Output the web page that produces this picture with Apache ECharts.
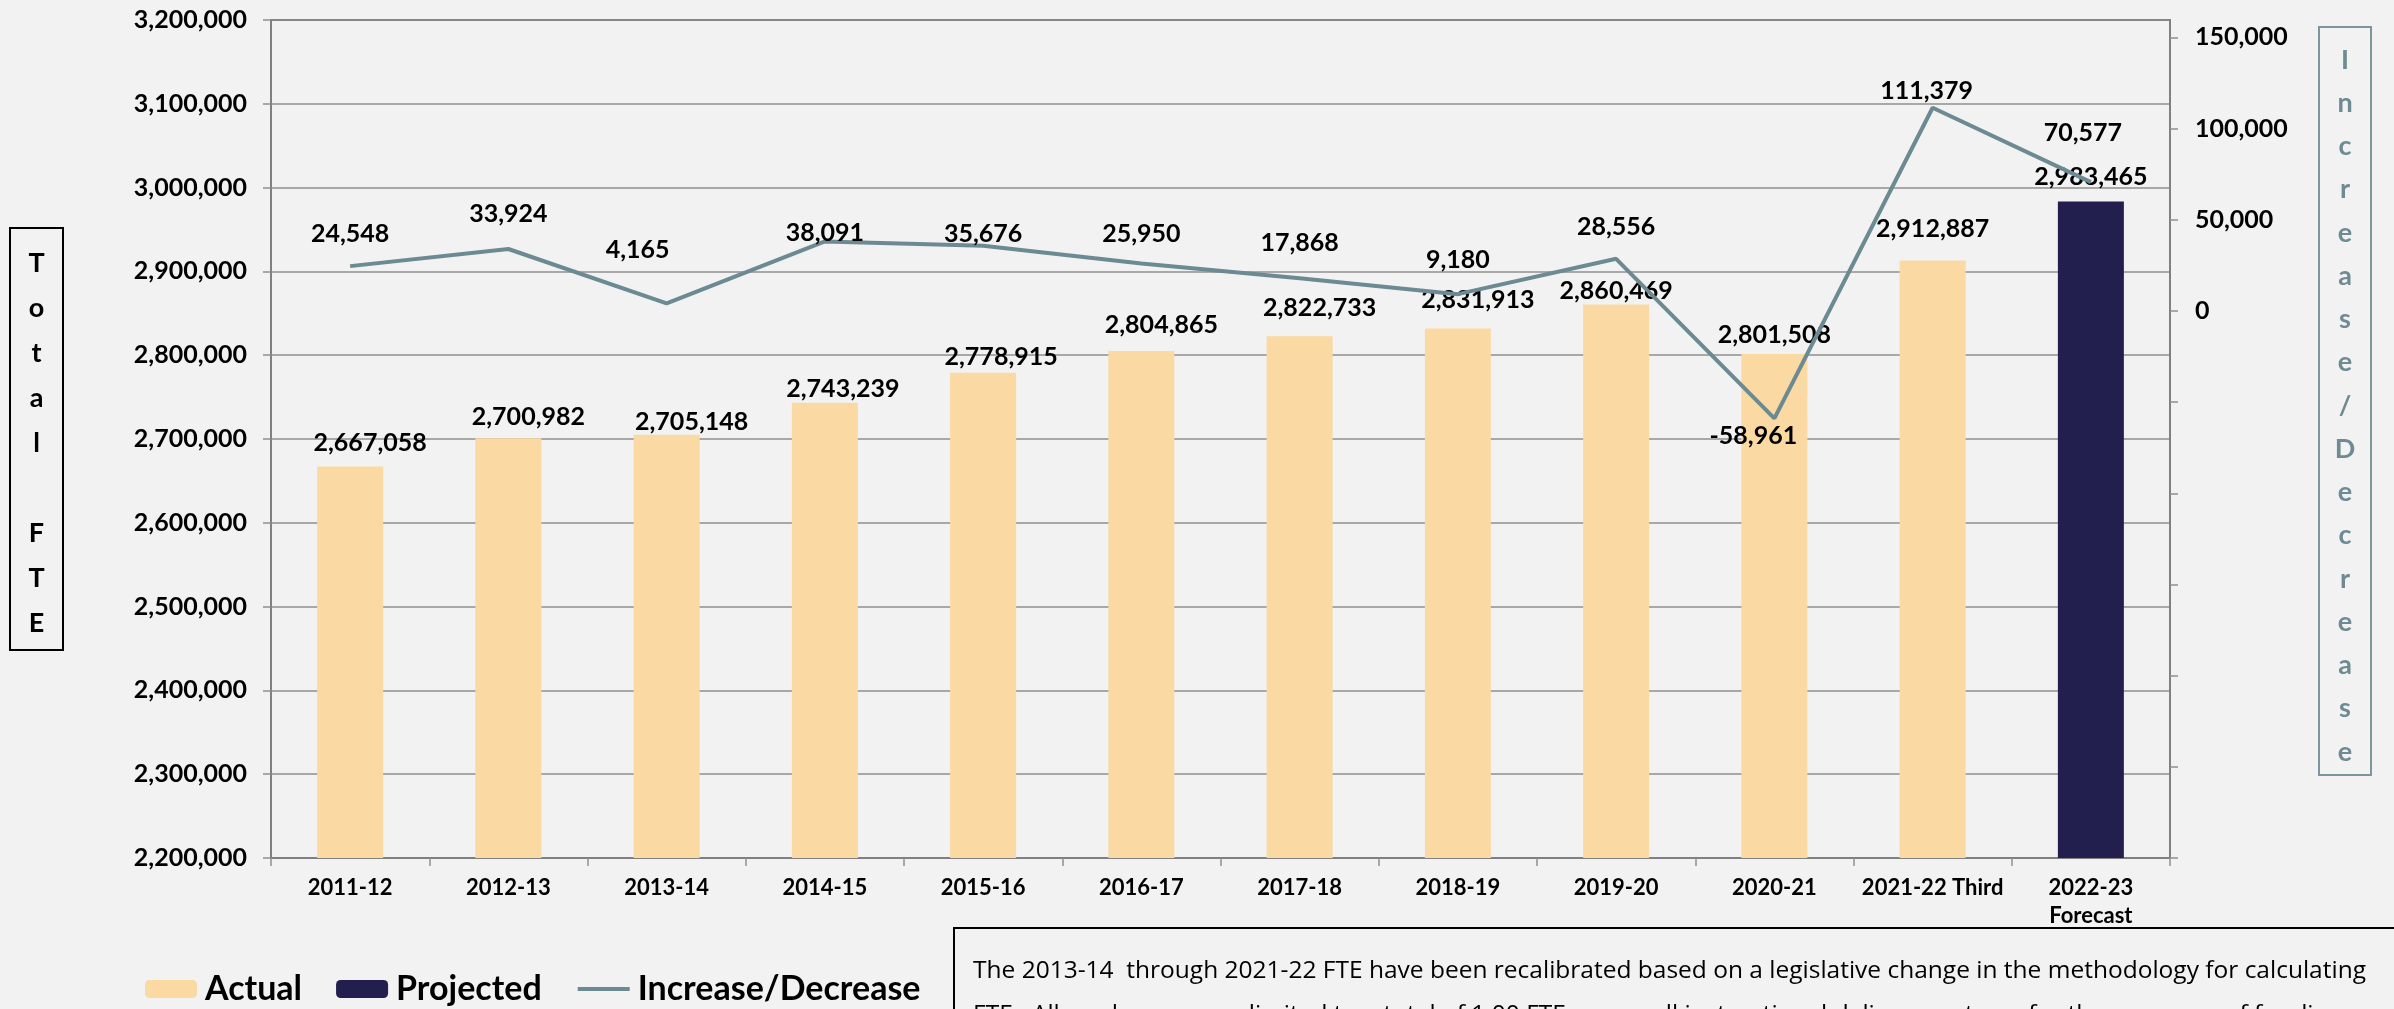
<!DOCTYPE html>
<html>
<head>
<meta charset="utf-8">
<title>Total FTE</title>
<script src="https://cdn.jsdelivr.net/npm/echarts@6/dist/echarts.min.js"></script>
<style>
	html, body { margin: 0; padding: 0; background: #F2F2F2; }
	#chart { width: 2394px; height: 1009px; }
</style>
</head>
<body>
<div id="chart"></div>
<script>
// data
var categories = ['2011-12', '2012-13', '2013-14', '2014-15', '2015-16', '2016-17', '2017-18', '2018-19', '2019-20', '2020-21', '2021-22 Third', '2022-23\nForecast'];
var actualFte = [2667058, 2700982, 2705148, 2743239, 2778915, 2804865, 2822733, 2831913, 2860469, 2801508, 2912887, null];
var projectedFte = [null, null, null, null, null, null, null, null, null, null, null, 2983465];
var changeFte = [24548, 33924, 4165, 38091, 35676, 25950, 17868, 9180, 28556, -58961, 111379, 70577];
var fteAxisMin = 2200000, fteAxisMax = 3200000, fteAxisStep = 100000;
var changeAxisMin = -300000, changeAxisMax = 159500, changeAxisStep = 50000;

// label placement (px from the mark, like the hand-moved labels in the picture)
var barLabelLift = [24, 21, 13, 14, 16, 26, 28, 29, 14, 19, 32, 25];
var barLabelShift = [20, 20, 25, 18, 18, 20, 20, 20, 0, 0, 0, 0];
var lineLabelLift = [32, 35, 53, 8, 12, 30, 35, 34, 32, -17, 17, 49];
var lineLabelShift = [0, 0, -29, 0, 0, 0, 0, 0, 0, -21, -6, -8];

var FONT = 'Lato, "Open Sans", sans-serif';
var half = 13;

function fmt(v) {
	return Number(v).toLocaleString('en-US');
}

function barData(arr) {
	var out = [];
	for(var i = 0; i < arr.length; i++) {
		if(arr[i] === null) {
			out.push(null);
			continue;
		}
		out.push({
			value: arr[i],
			label: { offset: [barLabelShift[i], -(barLabelLift[i] - half)] }
		});
	}
	return out;
}

var lineData = [];
for(var i = 0; i < changeFte.length; i++) {
	var lift = lineLabelLift[i];
	lineData.push({
		value: changeFte[i],
		label: lift >= 0 ? {
			position: 'top',
			offset: [lineLabelShift[i], -(lift - half)]
		} : {
			position: 'bottom',
			offset: [lineLabelShift[i], (-lift - half)]
		}
	});
}

var labelStyle = {
	show: true,
	position: 'top',
	distance: 0,
	color: '#000',
	fontFamily: FONT,
	fontWeight: 'bold',
	fontSize: 25,
	lineHeight: 26,
	formatter: function(p) { return fmt(p.value); }
};

var chart = echarts.init(document.getElementById("chart"));
var option = {
	backgroundColor: '#F2F2F2',
	animation: false,
	textStyle: { fontFamily: FONT },
	grid: {
		left: 271,
		right: 224,
		top: 20,
		bottom: 151,
		show: true,
		borderColor: '#3a3a3a',
		borderWidth: 1.5,
		backgroundColor: 'transparent'
	},
	legend: {
		left: 140,
		top: 967,
		itemWidth: 52,
		itemHeight: 18,
		itemGap: 34,
		textStyle: {
			color: '#000',
			fontFamily: FONT,
			fontWeight: 'bold',
			fontSize: 34,
			padding: [0, 0, 0, 3]
		},
		data: ['Actual', 'Projected', {
			name: 'Increase/Decrease',
			itemStyle: { opacity: 0 },
			lineStyle: { width: 4, color: '#6C8A92' }
		}]
	},
	xAxis: [{
		type: 'category',
		data: categories,
		axisLine: { onZero: false, lineStyle: { color: '#808080', width: 2 } },
		axisTick: { show: true, length: 8, lineStyle: { color: '#909090', width: 1.5 } },
		axisLabel: {
			color: '#000',
			fontFamily: FONT,
			fontWeight: 'bold',
			fontSize: 22,
			lineHeight: 28,
			margin: 16,
			interval: 0
		},
		splitLine: { show: false }
	}],
	yAxis: [{
		type: 'value',
		min: fteAxisMin,
		max: fteAxisMax,
		interval: fteAxisStep,
		position: 'left',
		axisLine: { show: true, lineStyle: { color: '#808080', width: 2 } },
		axisTick: { show: true, length: 8, lineStyle: { color: '#909090', width: 1.5 } },
		axisLabel: {
			color: '#000',
			fontFamily: FONT,
			fontWeight: 'bold',
			fontSize: 25,
			margin: 24,
			formatter: function(v) { return fmt(v); }
		},
		splitLine: { show: true, lineStyle: { color: '#8f8f8f', width: 1.5 } }
	}, {
		type: 'value',
		min: changeAxisMin,
		max: changeAxisMax,
		interval: changeAxisStep,
		position: 'right',
		axisLine: { show: true, lineStyle: { color: '#808080', width: 2 } },
		axisTick: { show: true, length: 8, lineStyle: { color: '#909090', width: 1.5 } },
		axisLabel: {
			color: '#000',
			fontFamily: FONT,
			fontWeight: 'bold',
			fontSize: 25,
			margin: 25,
			showMaxLabel: false,
			formatter: function(v) {
				// negatives are hidden on this axis, as in the picture
				if(v < 0 || v % changeAxisStep !== 0) return '';
				return fmt(v);
			}
		},
		splitLine: { show: false }
	}],
	series: [{
		name: 'Actual',
		type: 'bar',
		barWidth: 66,
		barGap: '-100%',
		itemStyle: { color: '#FBD9A3' },
		label: labelStyle,
		data: barData(actualFte)
	}, {
		name: 'Projected',
		type: 'bar',
		barWidth: 66,
		barGap: '-100%',
		itemStyle: { color: '#221E4E' },
		label: labelStyle,
		data: barData(projectedFte)
	}, {
		name: 'Increase/Decrease',
		type: 'line',
		yAxisIndex: 1,
		symbol: 'circle',
		symbolSize: 0.1,
		showSymbol: true,
		z: 3,
		lineStyle: { color: '#6C8A92', width: 4 },
		itemStyle: { color: '#6C8A92' },
		label: labelStyle,
		data: lineData
	}],
	graphic: [{
		// left axis title
		type: 'rect',
		shape: { x: 10, y: 228, width: 53, height: 422 },
		style: { fill: 'transparent', stroke: '#000', lineWidth: 2 }
	}, {
		type: 'text',
		x: 36.5,
		y: 443,
		style: {
			text: 'T\no\nt\na\nl\n \nF\nT\nE',
			font: 'bold 27px ' + FONT,
			fill: '#000',
			lineHeight: 45,
			align: 'center',
			verticalAlign: 'middle'
		}
	}, {
		// right axis title
		type: 'rect',
		shape: { x: 2319, y: 27, width: 52, height: 748 },
		style: { fill: 'transparent', stroke: '#7C969E', lineWidth: 2 }
	}, {
		type: 'text',
		x: 2345,
		y: 406,
		style: {
			text: 'I\nn\nc\nr\ne\na\ns\ne\n/\nD\ne\nc\nr\ne\na\ns\ne',
			font: 'bold 27px ' + FONT,
			fill: '#6E8B93',
			lineHeight: 43.25,
			align: 'center',
			verticalAlign: 'middle'
		}
	}, {
		// footnote box, runs past the picture edge
		type: 'rect',
		shape: { x: 954, y: 928, width: 1500, height: 200 },
		style: { fill: 'transparent', stroke: '#000', lineWidth: 2 }
	}, {
		type: 'text',
		x: 973,
		y: 949,
		style: {
			text: 'The 2013-14  through 2021-22 FTE have been recalibrated based on a legislative change in the methodology for calculating\nFTE.  All grades are now limited to a total of 1.00 FTE across all instructional delivery systems for the purposes of funding',
			font: '24.5px "Open Sans", sans-serif',
			fill: '#000',
			lineHeight: 44,
			verticalAlign: 'top'
		}
	}]
};
chart.setOption(option);
window.onresize = chart.resize;
</script>
</body>
</html>
